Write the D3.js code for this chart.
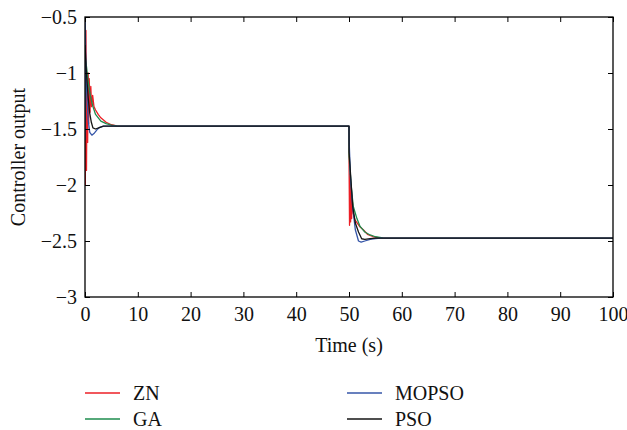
<!DOCTYPE html>
<html>
<head>
<meta charset="utf-8">
<script src="https://cdn.jsdelivr.net/npm/d3@7/dist/d3.min.js"></script>
<style>
  html, body { margin: 0; padding: 0; background: #fff; }
  svg { display: block; }
  text { font-family: "Liberation Serif", "DejaVu Serif", serif; fill: #111; }
</style>
</head>
<body>
<svg id="chart" width="627" height="430"></svg>
<script>
// Controller output of the four tuned controllers, [time (s), output]
const znPoints = [
  [0, -1.6], [0.06, -2.0], [0.18, -0.62], [0.28, -1.87], [0.4, -1.0], [0.5, -1.62],
  [0.6, -1.0], [0.7, -1.45], [0.8, -1.05], [0.95, -1.35], [1.1, -1.12], [1.25, -1.3],
  [1.45, -1.2], [1.7, -1.3], [2, -1.33], [2.5, -1.37], [3, -1.4], [4, -1.44],
  [5, -1.462], [6, -1.472], [7, -1.475], [50, -1.475], [50.02, -1.84], [50.1, -2.36],
  [50.2, -1.9], [50.3, -2.33], [50.4, -2.0], [50.5, -2.3], [50.6, -2.1], [50.8, -2.25],
  [51.1, -2.31], [52, -2.37], [52.7, -2.4], [53.5, -2.44], [54.5, -2.46], [55.5, -2.47],
  [56.5, -2.475], [100, -2.475]
];
const gaPoints = [
  [0, -1.48], [0.02, -0.85], [0.3, -0.95], [0.6, -1.08], [1.0, -1.2], [1.5, -1.3],
  [2, -1.37], [3, -1.43], [4, -1.452], [5, -1.466], [6, -1.472], [7.5, -1.475],
  [50, -1.475], [50.02, -1.75], [50.4, -2.0], [50.8, -2.19], [51.5, -2.3], [52.1, -2.37],
  [53, -2.42], [54, -2.446], [55, -2.462], [56.4, -2.472], [57.5, -2.475], [100, -2.475]
];
const mopsoPoints = [
  [0, -1.6], [0.02, -0.5], [0.15, -0.9], [0.35, -1.2], [0.6, -1.42], [0.9, -1.53],
  [1.3, -1.555], [1.8, -1.535], [2.3, -1.505], [2.8, -1.485], [3.5, -1.475],
  [50, -1.475], [50.02, -1.6], [50.3, -1.95], [50.7, -2.2], [51.2, -2.4], [51.8, -2.5],
  [52.3, -2.51], [53, -2.5], [54, -2.485], [55, -2.478], [56, -2.475], [100, -2.475]
];
const psoPoints = [
  [0, -0.75], [0.3, -1.02], [0.6, -1.22], [0.9, -1.36], [1.2, -1.44], [1.5, -1.49],
  [2, -1.5], [2.7, -1.488], [3.5, -1.475], [50, -1.475], [50.02, -1.71], [50.4, -1.98],
  [50.7, -2.19], [51.2, -2.34], [51.8, -2.42], [52.4, -2.48], [53, -2.486], [54, -2.479],
  [55, -2.475], [100, -2.475]
];

const seriesNames = ["ZN", "GA", "MOPSO", "PSO"];
const seriesColors = ["#ec1f26", "#1e8c4e", "#3656a8", "#151515"];
const seriesData = [znPoints, gaPoints, mopsoPoints, psoPoints];

const xTicks = [0, 10, 20, 30, 40, 50, 60, 70, 80, 90, 100];
const yTicks = [-3, -2.5, -2, -1.5, -1, -0.5];

const svg = d3.select("#chart");
const plotLeft = 85, plotRight = 613, plotTop = 17, plotBottom = 297;

const x = d3.scaleLinear().domain([0, 100]).range([plotLeft, plotRight]);
const y = d3.scaleLinear().domain([-3, -0.5]).range([plotBottom, plotTop]);

svg.append("defs").append("clipPath").attr("id", "plotClip")
  .append("rect").attr("x", plotLeft).attr("y", plotTop)
  .attr("width", plotRight - plotLeft).attr("height", plotBottom - plotTop);

// Curves
const line = d3.line().x(d => x(d[0])).y(d => y(d[1]));
const plot = svg.append("g").attr("clip-path", "url(#plotClip)");
seriesData.forEach((pts, i) => {
  plot.append("path")
    .datum(pts)
    .attr("d", line)
    .attr("fill", "none")
    .attr("stroke", seriesColors[i])
    .attr("stroke-width", 1.3)
    .attr("stroke-linejoin", "round");
});

// Axes with inward ticks on all four sides
const fmt = d3.format("");
const tickLen = 5;
svg.append("g").attr("transform", `translate(0,${plotBottom})`)
  .call(d3.axisBottom(x).tickValues(xTicks).tickSizeInner(-tickLen).tickSizeOuter(0).tickPadding(10).tickFormat(fmt))
  .call(g => g.select(".domain").remove())
  .call(g => g.selectAll("text").attr("font-size", 20));
svg.append("g").attr("transform", `translate(0,${plotTop})`)
  .call(d3.axisTop(x).tickValues(xTicks).tickSizeInner(-tickLen).tickSizeOuter(0).tickFormat(""))
  .call(g => g.select(".domain").remove());
svg.append("g").attr("transform", `translate(${plotLeft},0)`)
  .call(d3.axisLeft(y).tickValues(yTicks).tickSizeInner(-tickLen).tickSizeOuter(0).tickPadding(8).tickFormat(fmt))
  .call(g => g.select(".domain").remove())
  .call(g => g.selectAll("text").attr("font-size", 20));
svg.append("g").attr("transform", `translate(${plotRight},0)`)
  .call(d3.axisRight(y).tickValues(yTicks).tickSizeInner(-tickLen).tickSizeOuter(0).tickFormat(""))
  .call(g => g.select(".domain").remove());

svg.selectAll(".tick line").attr("stroke", "#000").attr("stroke-width", 1);
svg.selectAll(".tick text").attr("fill", "#111");

// Frame
svg.append("rect")
  .attr("x", plotLeft).attr("y", plotTop)
  .attr("width", plotRight - plotLeft).attr("height", plotBottom - plotTop)
  .attr("fill", "none").attr("stroke", "#000").attr("stroke-width", 1.3);

// Axis titles
svg.append("text")
  .attr("x", (plotLeft + plotRight) / 2).attr("y", 352)
  .attr("text-anchor", "middle").attr("font-size", 20)
  .text("Time (s)");
svg.append("text")
  .attr("transform", `translate(25,${(plotTop + plotBottom) / 2}) rotate(-90)`)
  .attr("text-anchor", "middle").attr("font-size", 20)
  .text("Controller output");

// Legend: two columns
const legendPos = [[85, 393], [85, 419], [347, 393], [347, 419]];
const legendOrder = [0, 1, 2, 3];
legendOrder.forEach((si, k) => {
  const [lx, ly] = legendPos[k];
  const g = svg.append("g").attr("transform", `translate(${lx},${ly})`);
  g.append("line").attr("x1", 0).attr("x2", 35).attr("y1", 0).attr("y2", 0)
    .attr("stroke", seriesColors[si]).attr("stroke-width", 1.3);
  g.append("text").attr("x", 48).attr("y", 0).attr("dy", "0.35em")
    .attr("font-size", 20).text(seriesNames[si]);
});
</script>
</body>
</html>
